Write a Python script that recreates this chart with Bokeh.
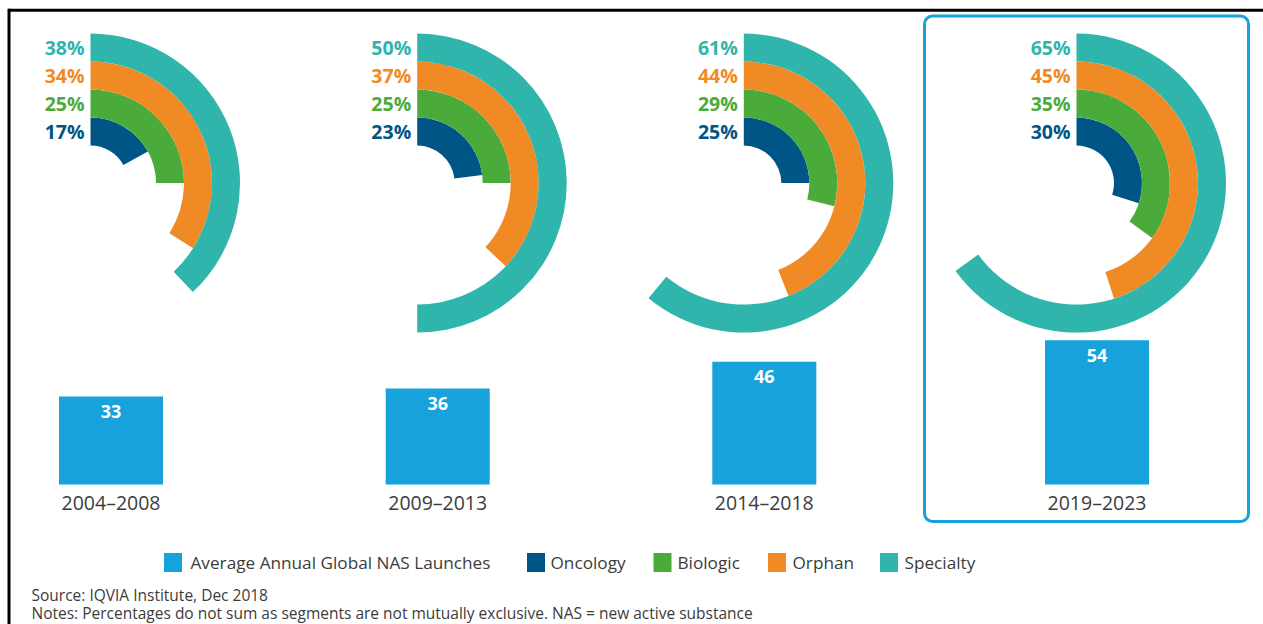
import math
from bokeh.plotting import figure
from bokeh.models import Range1d, BoxAnnotation
from bokeh.core.properties import value
from bokeh.embed import file_html
from bokeh.resources import INLINE

# ---------------- data ----------------
periods = ["2004–2008", "2009–2013", "2014–2018", "2019–2023"]
launches = [33, 36, 46, 54]
oncology = [17, 23, 25, 30]
biologic = [25, 25, 29, 35]
orphan = [34, 37, 44, 45]
specialty = [38, 50, 61, 65]
segments = ["Oncology", "Biologic", "Orphan", "Specialty"]
bar_name = "Average Annual Global NAS Launches"
source_text = "Source: IQVIA Institute, Dec 2018"
notes_text = "Notes: Percentages do not sum as segments are not mutually exclusive. NAS = new active substance"

# ---------------- style / layout ----------------
seg_values = [oncology, biologic, orphan, specialty]
seg_colors = ["#005587", "#4aab3a", "#f08a24", "#2fb5ac"]
bar_color = "#17a2dc"
text_color = "#3c3c3c"
FONT = value("Open Sans")

W, H = 1263, 624
PX0, PY0 = 0, 0
TOTAL_H = 624


def Y(py):  # pixel row -> data y
    return TOTAL_H - py


p = figure(width=W, height=H, x_range=Range1d(PX0, PX0 + W), y_range=Range1d(Y(PY0 + H), Y(PY0)),
           output_backend="svg", toolbar_location=None, min_border=0,
           x_axis_location=None, y_axis_location=None)
p.grid.visible = False
p.outline_line_color = None
p.background_fill_color = "white"

# bar scale: value 0 at pixel row 484, 2.67 px per launch
BAR_BASE_PY = 484
K = 2.67
p.extra_y_ranges = {"bars": Range1d((Y(PY0 + H) - Y(BAR_BASE_PY)) / K, (Y(PY0) - Y(BAR_BASE_PY)) / K)}

# frame lines
p.segment(x0=[8], y0=[Y(9.7)], x1=[W], y1=[Y(9.7)], line_color="black", line_width=3)
p.segment(x0=[8.5], y0=[Y(8.2)], x1=[8.5], y1=[Y(624)], line_color="black", line_width=3)

# highlight box for last period
p.add_layout(BoxAnnotation(left=924, right=1248, top=Y(15.5), bottom=Y(521),
                           fill_alpha=0, line_color=bar_color, line_alpha=1, line_width=3,
                           border_radius=8, level="underlay"))

# donuts
centers_x = [90, 416.7, 743.3, 1076]
cy = Y(182.6)
r0, rw = 37.5, 28
for i, (name, vals, col) in enumerate(zip(segments, seg_values, seg_colors)):
    inner = r0 + rw * i
    outer = inner + rw
    ends = [math.pi / 2 - 2 * math.pi * v / 100 for v in vals]
    p.annular_wedge(x=centers_x, y=[cy] * 4, inner_radius=inner, outer_radius=outer,
                    start_angle=math.pi / 2, end_angle=ends, direction="clock",
                    fill_color=col, line_color=None)
    p.text(x=[cx - 6 for cx in centers_x], y=[cy + (inner + outer) / 2] * 4,
           text=[f"{v}%" for v in vals], text_align="right", text_baseline="middle",
           text_color=col, text_font=FONT, text_font_size="19.5px", text_font_style="bold")

# bars
bar_x = [cx + 20.5 for cx in centers_x]
p.vbar(x=bar_x, top=launches, bottom=0, width=104, fill_color=bar_color, line_color=None,
       y_range_name="bars")
p.text(x=bar_x, y=launches, text=[str(v) for v in launches], y_range_name="bars",
       y_offset=15, text_align="center", text_baseline="middle", text_color="white",
       text_font=FONT, text_font_size="18px", text_font_style="bold")
p.text(x=bar_x, y=[0] * 4, text=periods, y_range_name="bars", y_offset=18,
       text_align="center", text_baseline="middle", text_color=text_color,
       text_font=FONT, text_font_size="19.5px")

# legend
leg_names = [bar_name] + segments
leg_colors = [bar_color] + seg_colors
leg_sq_x = [172.5, 535.5, 662, 776.5, 888.5]
leg_txt_x = [190, 550, 677, 792, 904]
leg_y = Y(562)
p.rect(x=leg_sq_x, y=[leg_y] * 5, width=18, height=19, fill_color=leg_colors, line_color=None)
p.text(x=leg_txt_x, y=[leg_y] * 5, text=leg_names, text_align="left", text_baseline="middle",
       text_color=text_color, text_font=FONT, text_font_size="17.2px")

# source / notes
p.text(x=[31, 31], y=[Y(594), Y(612.5)], text=[source_text, notes_text], text_align="left",
       text_baseline="middle", text_color=text_color, text_font=FONT, text_font_size="15.5px")

open("out.html", "w").write(file_html(p, INLINE))
